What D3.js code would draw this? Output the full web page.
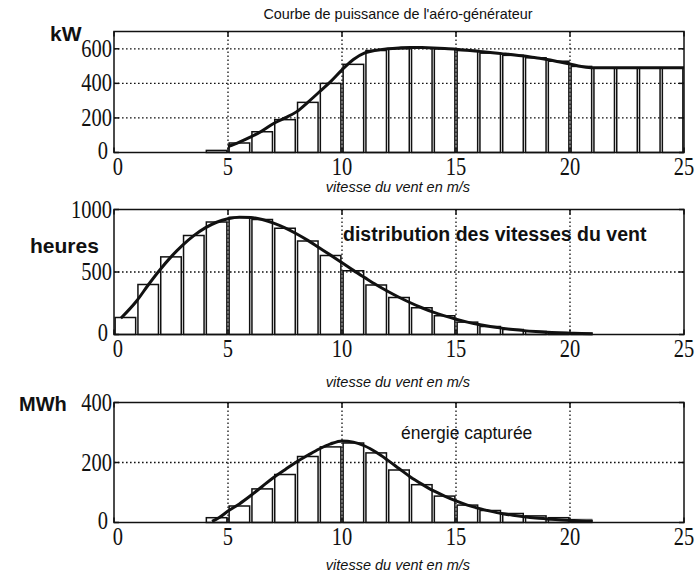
<!DOCTYPE html>
<html>
<head>
<meta charset="utf-8">
<script src="https://cdn.jsdelivr.net/npm/d3@7/dist/d3.min.js"></script>
<style>
  html, body { margin: 0; padding: 0; background: #fff; }
  svg { display: block; }
</style>
</head>
<body>
<svg id="chart" width="698" height="578"></svg>
<script>
// Wind speed axis (m/s), shared by the three panels
const windTicks = [0, 5, 10, 15, 20, 25];

// Power curve of the turbine (kW): bins start at 4 m/s
const powerBinStart = [4, 5, 6, 7, 8, 9, 10, 11, 12, 13, 14, 15, 16, 17, 18, 19, 20, 21, 22, 23, 24];
const powerBars = [12, 55, 120, 190, 290, 400, 510, 590, 600, 605, 600, 590, 575, 562, 548, 528, 498, 490, 490, 490, 490];
const powerCurveX = [5, 5.5, 6, 6.5, 7, 7.5, 8, 8.5, 9, 9.5, 10, 10.5, 11, 11.5, 12, 12.5, 13, 13.5, 14, 14.5, 15, 15.5, 16, 16.5, 17, 17.5, 18, 18.5, 19, 19.5, 20, 20.5, 21, 22, 23, 24, 25];
const powerCurveY = [34, 60, 90, 125, 168, 200, 235, 290, 350, 410, 478, 538, 576, 592, 600, 605, 608, 607, 605, 602, 598, 592, 585, 578, 572, 566, 558, 548, 538, 525, 512, 498, 490, 490, 490, 490, 490];
const powerTicks = [0, 200, 400, 600];

// Yearly wind speed distribution (hours per 1 m/s bin)
const hoursBinStart = [0, 1, 2, 3, 4, 5, 6, 7, 8, 9, 10, 11, 12, 13, 14, 15, 16, 17, 18, 19, 20];
const hoursBars = [136, 400, 621, 792, 900, 938, 920, 850, 748, 632, 510, 396, 296, 214, 150, 99, 64, 40, 25, 15, 9];
const hoursCurveX = [0.3, 1, 1.5, 2, 2.5, 3, 3.5, 4, 4.5, 5, 5.5, 6, 6.5, 7, 7.5, 8, 8.5, 9, 9.5, 10, 10.5, 11, 11.5, 12, 12.5, 13, 13.5, 14, 14.5, 15, 15.5, 16, 16.5, 17, 17.5, 18, 18.5, 19, 19.5, 20, 20.5, 21];
const hoursCurveY = [130, 270, 396, 514, 621, 713, 791, 853, 898, 926, 938, 936, 920, 891, 853, 806, 753, 694, 635, 574, 513, 455, 398, 346, 298, 254, 214, 179, 149, 122, 99, 80, 64, 51, 40, 31, 24, 18, 14, 11, 8, 6];
const hoursTicks = [0, 500, 1000];

// Captured energy per bin (MWh)
const energyBinStart = [4, 5, 6, 7, 8, 9, 10, 11, 12, 13, 14, 15, 16, 17, 18, 19, 20];
const energyBars = [16, 55, 112, 160, 220, 252, 265, 232, 175, 126, 88, 58, 40, 30, 22, 16, 10];
const energyCurveX = [4.3, 4.6, 5, 5.5, 6, 6.5, 7, 7.5, 8, 8.5, 9, 9.5, 10, 10.5, 11, 11.5, 12, 12.5, 13, 13.5, 14, 14.5, 15, 15.5, 16, 16.5, 17, 17.5, 18, 18.5, 19, 19.5, 20, 20.5, 21];
const energyCurveY = [4, 16, 38, 62, 90, 120, 150, 176, 202, 224, 245, 262, 272, 268, 255, 234, 208, 180, 152, 128, 106, 88, 72, 58, 47, 38, 30, 24, 19, 15, 12, 9, 7, 5, 4];
const energyTicks = [0, 200, 400];

const svg = d3.select("#chart");
svg.append("rect").attr("width", 698).attr("height", 578).attr("fill", "#fff");

const x = d3.scaleLinear().domain([0, 25]).range([114, 684]);
const serif = "'Liberation Serif', 'Times New Roman', serif";
const sans = "'Liberation Sans', Arial, sans-serif";
const numSize = 25;      // tick numbers: tall, slightly narrowed serif
const numSqueeze = 0.82;

function numLabel(sel, px, py, anchor, txt) {
  sel.append("text")
    .attr("transform", `translate(${px},${py}) scale(${numSqueeze},1)`)
    .attr("text-anchor", anchor)
    .attr("font-family", serif).attr("font-size", numSize).attr("fill", "#111")
    .text(txt);
}

function panel(opts) {
  const y = d3.scaleLinear().domain(opts.domain).range([opts.bottom, opts.top]);
  const g = svg.append("g");
  const [x0, x1] = x.range();

  // dotted grid
  const grid = g.append("g").attr("stroke", "#111").attr("stroke-width", 1.3)
    .attr("stroke-dasharray", "1.6,2.4");
  windTicks.filter(t => t > 0 && t < 25).forEach(t => {
    grid.append("line").attr("x1", x(t)).attr("x2", x(t))
      .attr("y1", opts.top).attr("y2", opts.bottom);
  });
  opts.ticks.filter(t => t > opts.domain[0] && t < opts.domain[1]).forEach(t => {
    grid.append("line").attr("x1", x0).attr("x2", x1)
      .attr("y1", y(t)).attr("y2", y(t));
  });

  // bars, one per 1 m/s bin
  g.append("g").selectAll("rect").data(opts.bins.map((b, i) => ({ b, v: opts.bars[i] })))
    .join("rect")
    .attr("x", d => x(d.b + 0.05))
    .attr("width", d => x(d.b + 0.95) - x(d.b + 0.05))
    .attr("y", d => y(d.v))
    .attr("height", d => y(0) - y(d.v))
    .attr("fill", "none")
    .attr("stroke", (d, i) => (opts.greyLast && i === opts.bins.length - 1) ? "#777" : "#111")
    .attr("stroke-width", 1.5);

  // continuous curve
  const line = d3.line().x(d => x(d[0])).y(d => y(d[1])).curve(d3.curveMonotoneX);
  g.append("path").datum(opts.curveX.map((v, i) => [v, opts.curveY[i]]))
    .attr("d", line).attr("fill", "none").attr("stroke", "#111")
    .attr("stroke-width", 3).attr("stroke-linejoin", "round");

  // frame
  g.append("rect").attr("x", x0).attr("y", opts.top)
    .attr("width", x1 - x0).attr("height", opts.bottom - opts.top)
    .attr("fill", "none").attr("stroke", "#111").attr("stroke-width", 1.5);

  // inward ticks on all four sides
  const tk = g.append("g").attr("stroke", "#111").attr("stroke-width", 1.5);
  windTicks.forEach(t => {
    tk.append("line").attr("x1", x(t)).attr("x2", x(t)).attr("y1", opts.bottom).attr("y2", opts.bottom - 5);
    tk.append("line").attr("x1", x(t)).attr("x2", x(t)).attr("y1", opts.top).attr("y2", opts.top + 5);
  });
  opts.ticks.forEach(t => {
    tk.append("line").attr("x1", x0).attr("x2", x0 + 5).attr("y1", y(t)).attr("y2", y(t));
    tk.append("line").attr("x1", x1).attr("x2", x1 - 5).attr("y1", y(t)).attr("y2", y(t));
  });

  // tick labels; the two zeros at the corner are nudged apart
  const xl = g.append("g");
  windTicks.forEach(t => numLabel(xl, x(t) + (t === 0 ? 4 : 0), opts.bottom + 22.5, "middle", t));
  const yl = g.append("g");
  opts.ticks.forEach(t => numLabel(yl, x0 - (t === 0 ? 6 : 2), y(t) + (t === 0 ? 6 : 8), "end", t));

  // x axis title
  g.append("text").attr("x", 398).attr("y", opts.xlabelY)
    .attr("text-anchor", "middle").attr("font-family", sans)
    .attr("font-style", "italic").attr("font-size", 14.5).attr("fill", "#111")
    .text("vitesse du vent en m/s");

  // unit label
  g.append("text").attr("x", opts.unitX).attr("y", opts.unitY)
    .attr("font-family", sans).attr("font-weight", "bold")
    .attr("font-size", opts.unitSize).attr("fill", "#111")
    .text(opts.unit);

  return { g, y };
}

panel({
  top: 31.5, bottom: 152.5, domain: [0, 700], ticks: powerTicks,
  bins: powerBinStart, bars: powerBars, curveX: powerCurveX, curveY: powerCurveY,
  xlabelY: 192, unit: "kW", unitX: 50, unitY: 41, unitSize: 21
});

const p2 = panel({
  top: 209.5, bottom: 334.5, domain: [0, 1000], ticks: hoursTicks,
  bins: hoursBinStart, bars: hoursBars, curveX: hoursCurveX, curveY: hoursCurveY,
  xlabelY: 387, unit: "heures", unitX: 30, unitY: 253, unitSize: 21
});

const p3 = panel({
  top: 402.5, bottom: 522.5, domain: [0, 400], ticks: energyTicks,
  bins: energyBinStart, bars: energyBars, curveX: energyCurveX, curveY: energyCurveY,
  xlabelY: 570, unit: "MWh", unitX: 19, unitY: 411, unitSize: 20, greyLast: true
});

// title and annotations
svg.append("text").attr("x", 398).attr("y", 19).attr("text-anchor", "middle")
  .attr("font-family", sans).attr("font-size", 14.4).attr("fill", "#111")
  .text("Courbe de puissance de l'aéro-générateur");

p2.g.append("text").attr("x", 343).attr("y", 241)
  .attr("font-family", sans).attr("font-weight", "bold").attr("font-size", 19.5)
  .attr("fill", "#111").text("distribution des vitesses du vent");

p3.g.append("text").attr("x", 401).attr("y", 439)
  .attr("font-family", sans).attr("font-size", 17.5)
  .attr("fill", "#111").text("énergie capturée");
</script>
</body>
</html>
